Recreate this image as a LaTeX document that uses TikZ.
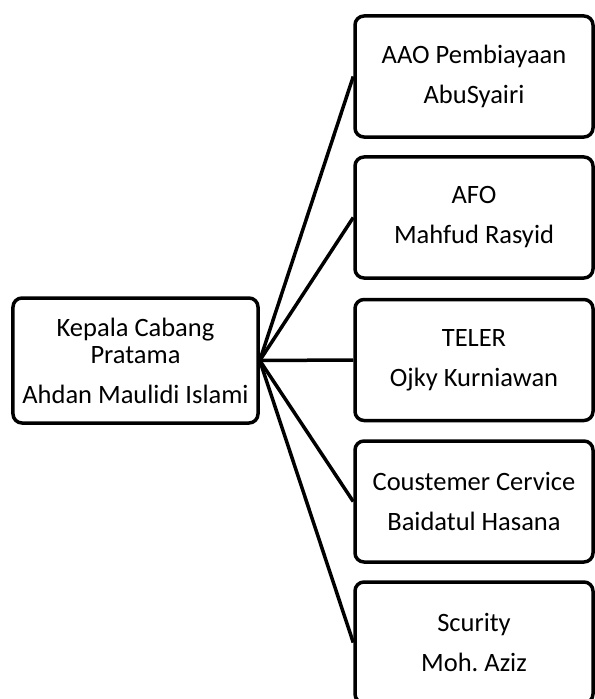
\documentclass[tikz,border=0pt]{standalone}
\usepackage{fontspec}
\setmainfont{Carlito}
\usetikzlibrary{positioning}
\frenchspacing

\tikzset{
  kotak/.style={draw, line width=3.5bp, rounded corners=9bp, align=center,
    font=\fontsize{26.5bp}{40bp}\selectfont},
  cabang/.style={kotak, minimum width=238bp, minimum height=121bp},
  garis/.style={line width=3.5bp}
}

\begin{document}
\begin{tikzpicture}[x=1bp,y=-1bp]
            \useasboundingbox (0,0) rectangle (595,699);
            \clip (0,0) rectangle (595,699);
            % pimpinan
            \node[kotak, font=\fontsize{26.5bp}{27bp}\selectfont, minimum width=245bp, minimum height=125bp] (kc) at (135.5,360.5)
              {Kepala Cabang\\Pratama\\[13bp]Ahdan Maulidi Islami};

            % bawahan
            \node[cabang] (aao) at (474,76.5) {AAO Pembiayaan\\AbuSyairi};
            \node[cabang] (afo) at (474,217.5) {AFO\\Mahfud Rasyid};
            \node[cabang] (teler) at (474,360) {TELER\\Ojky Kurniawan};
            \node[cabang] (cs) at (474,501.5) {Coustemer Cervice\\Baidatul Hasana};
            \node[cabang] (scurity) at (474,642.5) {Scurity\\Moh. Aziz};

            \draw[garis] (kc.east)--(aao.west);
            \draw[garis] (kc.east)--(afo.west);
            \draw[garis] (kc.east)--(teler.west);
            \draw[garis] (kc.east)--(cs.west);
            \draw[garis] (kc.east)--(scurity.west);
        \end{tikzpicture}
\end{document}
